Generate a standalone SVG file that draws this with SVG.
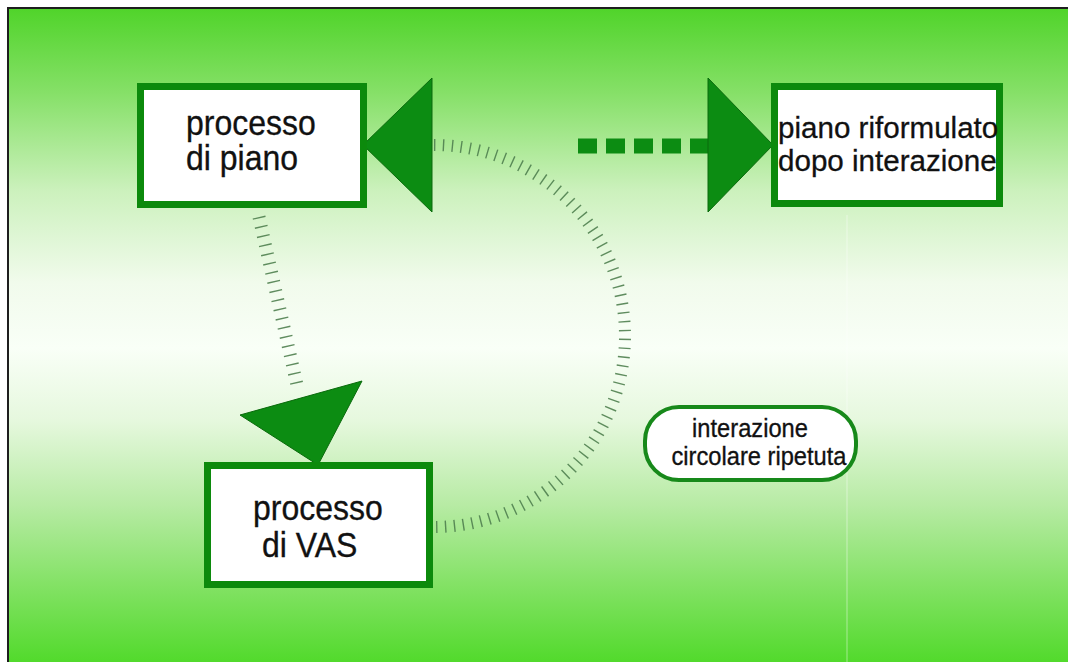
<svg xmlns="http://www.w3.org/2000/svg" width="1068" height="662" viewBox="0 0 1068 662">
  <defs>
    <linearGradient id="bg" x1="0" y1="8" x2="0" y2="662" gradientUnits="userSpaceOnUse">
      <stop offset="0" stop-color="#50d42a"/>
      <stop offset="0.13" stop-color="#86e068"/>
      <stop offset="0.28" stop-color="#ccf1bd"/>
      <stop offset="0.42" stop-color="#f1fbec"/>
      <stop offset="0.52" stop-color="#f9fff7"/>
      <stop offset="0.63" stop-color="#e6f8de"/>
      <stop offset="0.76" stop-color="#b7eba4"/>
      <stop offset="0.88" stop-color="#84e266"/>
      <stop offset="1" stop-color="#52da2c"/>
    </linearGradient>
    <style>
      .box { fill: #ffffff; stroke: #0c8a0c; stroke-width: 7; }
      .pill { fill: #ffffff; stroke: #17891a; stroke-width: 4; }
      .tri { fill: #0c8c12; stroke: #0a6a0c; stroke-width: 1; stroke-linejoin: miter; }
      .lbl { font-family: "Liberation Sans", Arial, sans-serif; fill: #111111; stroke: #111111; stroke-width: 0.3; }
      .big { font-size: 32px; }
      .mid { font-size: 29px; }
      .small { font-size: 23px; }
      .ticks { fill: none; stroke: #4f7f4f; stroke-opacity: 0.9; }
      .dash { fill: none; stroke: #0c8c12; stroke-width: 15; stroke-dasharray: 19 9; }
    </style>
  </defs>

  <!-- page and framed slide background -->
  <rect x="0" y="0" width="1068" height="662" fill="#ffffff"/>
  <rect x="8" y="8" width="1060" height="654" fill="url(#bg)"/>
  <line x1="847" y1="215" x2="847" y2="662" stroke="#ffffff" stroke-opacity="0.3" stroke-width="1.5"/>
  <path d="M8 662 V8 H1068" fill="none" stroke="#1e1e1e" stroke-width="2"/>

  <!-- connectors -->
  <g id="connectors">
    <!-- hatched link from plan process down to the VAS arrowhead -->
    <path class="ticks" d="M259 217 L297 385" stroke-width="13" stroke-dasharray="1.4 8"/>
    <!-- hatched semicircle of repeated interaction -->
    <path class="ticks" d="M434 145 A191 191 0 0 1 434 527" stroke-width="12" stroke-dasharray="1.4 7.5"/>
    <!-- square-dotted link to the reformulated plan -->
    <path class="dash" d="M578 146 H712"/>
    <!-- arrowheads -->
    <polygon class="tri" points="363,145 432,78 432,212"/>
    <polygon class="tri" points="708,78 708,212 773,145"/>
    <polygon class="tri" points="240,415 362,381 318,465"/>
  </g>

  <g id="node-piano">
    <rect class="box" x="140.5" y="86.5" width="223" height="118"/>
    <text class="lbl big" transform="translate(186 135) scale(1 1.08)">processo</text>
    <text class="lbl big" transform="translate(186 170) scale(1 1.08)">di piano</text>
  </g>

  <g id="node-riformulato">
    <rect class="box" x="774.5" y="86.5" width="225" height="117"/>
    <text class="lbl mid" transform="translate(778 138) scale(1.02 1.03)">piano riformulato</text>
    <text class="lbl mid" transform="translate(778 171) scale(1.02 1.03)">dopo interazione</text>
  </g>

  <g id="node-vas">
    <rect class="box" x="207.5" y="465.5" width="222" height="119"/>
    <text class="lbl big" transform="translate(253 520) scale(1 1.08)">processo</text>
    <text class="lbl big" transform="translate(262 557) scale(1 1.08)">di VAS</text>
  </g>

  <g id="node-interazione">
    <rect class="pill" x="645" y="407" width="211" height="73" rx="34" ry="34"/>
    <text class="lbl small" text-anchor="middle" transform="translate(750 437) scale(1.03 1.1)">interazione</text>
    <text class="lbl small" text-anchor="middle" transform="translate(759 465) scale(1.03 1.1)">circolare ripetuta</text>
  </g>
</svg>
